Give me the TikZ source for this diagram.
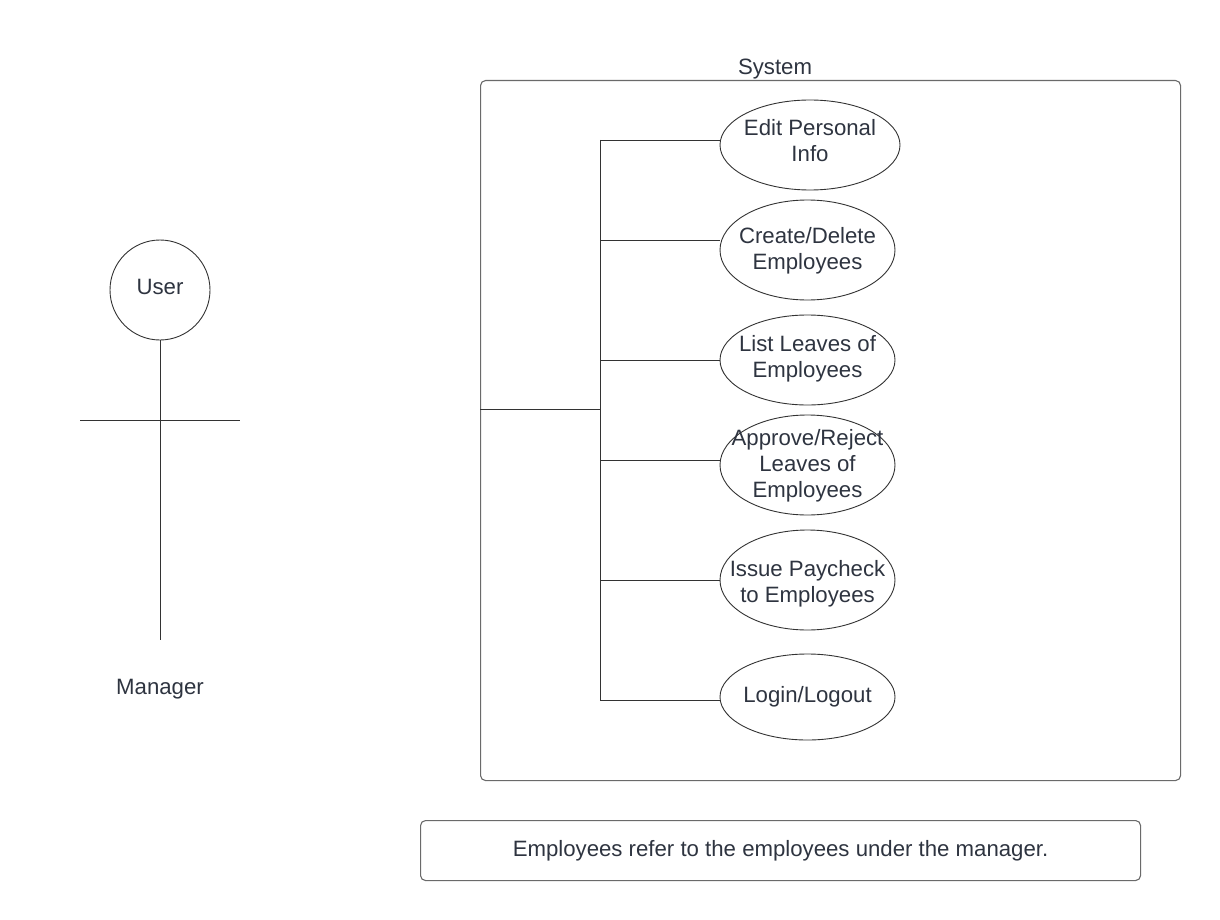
\documentclass[tikz,border=0pt]{standalone}
\usepackage{fontspec}
\setmainfont{Liberation Sans}
\usetikzlibrary{shapes.geometric}
\definecolor{ln}{HTML}{333333}
\definecolor{bx}{HTML}{6A6A6A}
\definecolor{tx}{HTML}{2E3440}
\tikzset{
  every node/.style={text=tx, font=\fontsize{22.2}{26}\selectfont},
  usecase/.style={draw=ln, line width=0.9pt, ellipse, inner sep=0pt},
  uctext/.style={align=center, inner sep=0pt},
  conn/.style={draw=ln, line width=0.9pt},
  frame/.style={draw=bx, line width=1.1pt, rounded corners=5pt},
}
\begin{document}
\begin{tikzpicture}[x=1pt,y=-1pt]
\useasboundingbox (0,0) rectangle (1220,920);
% actor
\node[draw=ln, line width=0.9pt, circle, minimum size=100pt, inner sep=0pt] (user) at (160,290) {};
\node (usertxt) at (160,287) {User};
\coordinate (legs) at (160,640);
\coordinate (armL) at (80,420);
\coordinate (armR) at (240,420);
\draw[conn] (user.south) -- (legs);
\draw[conn] (armL) -- (armR);
\node (mgr) at (160,689) {Manager};
% system box
\node[frame, minimum width=700pt, minimum height=700pt, anchor=north west] (sys) at (480,80) {};
\node (syslbl) at (775,69) {System};
% use cases
\node[usecase, minimum width=180pt, minimum height=90pt] (uc1) at (810,145) {};
\node[usecase, minimum width=175pt, minimum height=100pt] (uc2) at (807.5,250) {};
\node[usecase, minimum width=175pt, minimum height=90pt] (uc3) at (807.5,360) {};
\node[usecase, minimum width=175pt, minimum height=100pt] (uc4) at (807.5,465) {};
\node[usecase, minimum width=175pt, minimum height=100pt] (uc5) at (807.5,580) {};
\node[usecase, minimum width=175pt, minimum height=86pt] (uc6) at (807.5,697) {};
\node[uctext] (t1) at ([yshift=4pt]uc1.center) {Edit Personal\\Info};
\node[uctext] (t2) at ([yshift=-1pt]uc2.center) {Create/Delete\\Employees};
\node[uctext] (t3) at ([yshift=1.5pt]uc3.center) {List Leaves of\\Employees};
\node[uctext] (t4) at ([yshift=-1pt]uc4.center) {Approve/Reject\\Leaves of\\Employees};
\node[uctext] (t5) at ([yshift=-4pt]uc5.center) {Issue Paycheck\\to Employees};
\node[uctext] (t6) at (uc6.center) {Login/Logout};
% connectors
\coordinate (bus) at (600,409);
\coordinate (busT) at (600,140);
\coordinate (busB) at (600,700);
\draw[conn] (sys.west |- bus) -- (bus);
\draw[conn] (busT) -- (busB);
\draw[conn] (busT) -- (uc1.west |- busT);
\draw[conn] (600,240) -- (uc2.west |- 0,240);
\draw[conn] (600,360) -- (uc3.west);
\draw[conn] (600,460) -- (uc4.west |- 0,460);
\draw[conn] (600,580) -- (uc5.west);
\draw[conn] (busB) -- (uc6.west |- busB);
% note
\node[frame, minimum width=720pt, minimum height=60pt, anchor=north west] (note) at (420,820) {};
\node (notetxt) at (note.center) {Employees refer to the employees under the manager.};
\end{tikzpicture}
\end{document}
